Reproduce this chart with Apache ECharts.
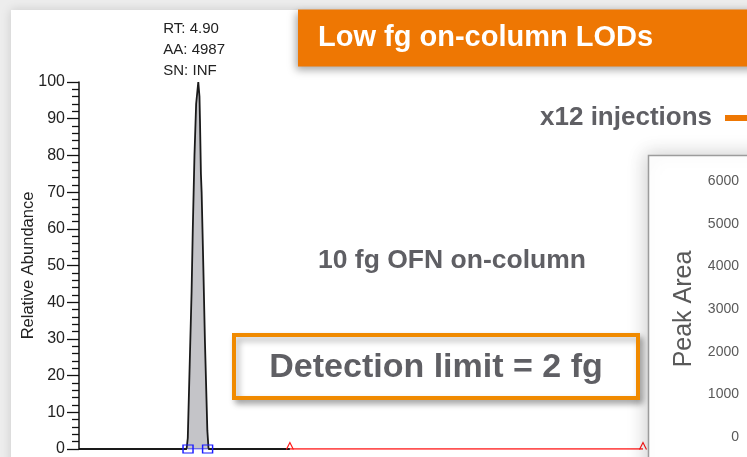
<!DOCTYPE html>
<html>
<head>
<meta charset="utf-8">
<script src="https://cdn.jsdelivr.net/npm/echarts@6/dist/echarts.min.js"></script>
<style>
  html, body { margin: 0; padding: 0; background: #ededed; }
  #chart { width: 747px; height: 457px; }
</style>
</head>
<body>
<div id="chart"></div>
<script>
// Chromatogram trace (retention time in min, relative abundance in %)
const traceTime = [4.400, 4.851, 4.856, 4.864, 4.872, 4.877, 4.884, 4.891, 4.900,
                   4.905, 4.907, 4.911, 4.914, 4.921, 4.928, 4.938, 4.943, 5.284];
const traceAbundance = [0, 0, 3, 23, 43, 60, 80, 94, 100,
                        96, 90, 75, 70, 50, 29, 5, 0, 0];

// Integration start / end of the peak
const integrationTime = [4.857, 4.939];
const integrationLevel = [0, 0];

// Detected baseline segment after the peak
const baselineTime = [5.284, 6.764];
const baselineLevel = [0, 0];

// Peak annotation
const peakRT = '4.90';
const peakAA = '4987';
const peakSN = 'INF';

// Axis ticks
const abundanceTicks = [0, 10, 20, 30, 40, 50, 60, 70, 80, 90, 100];
const areaTicks = [0, 1000, 2000, 3000, 4000, 5000, 6000];

// Peak areas of the repeat injections (series shown in the legend)
const injectionSeriesName = 'x12 injections';
const injectionAreas = [];

const pair = (xs, ys) => xs.map((x, i) => [x, ys[i]]);

const SANS = '"Liberation Sans", Arial, sans-serif';
const GREY_TEXT = '#5f5f64';
const ORANGE = '#ee7703';

const chart = echarts.init(document.getElementById('chart'), null, { renderer: 'canvas' });

const peakIndex = traceAbundance.indexOf(Math.max(...traceAbundance));

chart.setOption({
  animation: false,
  title: {
    text: 'Low fg on-column LODs',
    left: 298,
    top: 10,
    padding: [14, 140, 14, 20],
    backgroundColor: ORANGE,
    shadowBlur: 8,
    shadowColor: 'rgba(0,0,0,0.35)',
    shadowOffsetX: -2,
    shadowOffsetY: 3,
    z: 20,
    textStyle: { color: '#ffffff', fontFamily: SANS, fontWeight: 'bold', fontSize: 29, lineHeight: 28 }
  },
  legend: {
    data: [{ name: injectionSeriesName, icon: 'rect' }],
    right: 0,
    top: 105,
    padding: 0,
    align: 'right',
    itemWidth: 22,
    itemHeight: 6,
    z: 20,
    textStyle: { color: GREY_TEXT, fontFamily: SANS, fontWeight: 'bold', fontSize: 26, padding: [0, 8, 0, 0] }
  },
  grid: [
    { left: 79, right: 0, top: 82, bottom: 7 },
    { left: 748, right: -120, top: 181, bottom: 20 }
  ],
  xAxis: [
    { type: 'value', gridIndex: 0, min: 4.4, max: 7.2, show: false },
    { type: 'value', gridIndex: 1, min: 0, max: 13, show: false }
  ],
  yAxis: [
    {
      type: 'value', gridIndex: 0,
      min: abundanceTicks[0], max: abundanceTicks[abundanceTicks.length - 1],
      interval: abundanceTicks[1] - abundanceTicks[0],
      z: 5,
      name: 'Relative Abundance',
      nameLocation: 'middle',
      nameGap: 42,
      nameMoveOverlap: false,
      nameTextStyle: { color: '#222', fontFamily: SANS, fontSize: 16.5 },
      axisLine: { show: true, lineStyle: { color: '#111', width: 1.5 } },
      axisTick: { show: true, length: 12, lineStyle: { color: '#111', width: 1.3 } },
      minorTick: { show: true, splitNumber: 5, length: 7, lineStyle: { color: '#111', width: 1.3 } },
      axisLabel: { margin: 14, color: '#222', fontFamily: SANS, fontSize: 16 },
      splitLine: { show: false }
    },
    {
      type: 'value', gridIndex: 1,
      min: areaTicks[0], max: areaTicks[areaTicks.length - 1],
      interval: areaTicks[1] - areaTicks[0],
      z: 12,
      name: 'Peak Area',
      nameLocation: 'middle',
      nameGap: 51,
      nameMoveOverlap: false,
      nameTextStyle: { color: '#595959', fontFamily: SANS, fontSize: 25 },
      axisLine: { show: false },
      axisTick: { show: false },
      axisLabel: { margin: 9, color: '#595959', fontFamily: SANS, fontSize: 14, formatter: (v) => String(v) },
      splitLine: { show: false }
    }
  ],
  graphic: [
    {
      type: 'rect', z: -10, silent: true,
      shape: { x: 11, y: 10, width: 800, height: 500 },
      style: { fill: '#ffffff', shadowBlur: 10, shadowColor: 'rgba(0,0,0,0.15)' }
    },
    {
      type: 'rect', z: 8, silent: true,
      shape: { x: 648.5, y: 155.5, width: 160, height: 360 },
      style: { fill: '#ffffff', stroke: '#9c9c9c', lineWidth: 1.5,
               shadowBlur: 18, shadowColor: 'rgba(0,0,0,0.18)', shadowOffsetX: -3, shadowOffsetY: -2 }
    },
    {
      type: 'rect', z: 9, silent: true,
      shape: { x: 234, y: 335, width: 404, height: 63 },
      style: { fill: '#ffffff', stroke: '#f08a00', lineWidth: 4,
               shadowBlur: 6, shadowColor: 'rgba(0,0,0,0.3)', shadowOffsetX: 3, shadowOffsetY: 4 }
    },
    {
      type: 'text', z: 10, silent: true,
      style: { text: 'Detection limit = 2 fg', x: 436, y: 368, textAlign: 'center', textVerticalAlign: 'middle',
               font: 'bold 34px ' + SANS, fill: GREY_TEXT }
    },
    {
      type: 'text', z: 10, silent: true,
      style: { text: '10 fg OFN on-column', x: 452, y: 261, textAlign: 'center', textVerticalAlign: 'middle',
               font: 'bold 26.5px ' + SANS, fill: GREY_TEXT }
    }
  ],
  series: [
    {
      name: 'Chromatogram',
      type: 'line',
      xAxisIndex: 0, yAxisIndex: 0,
      data: pair(traceTime, traceAbundance),
      symbol: 'none',
      lineStyle: { color: '#1a1a1a', width: 1.8 },
      areaStyle: { color: '#c4c4c8', opacity: 1 },
      z: 3,
      markPoint: {
        symbol: 'circle',
        symbolSize: 0,
        data: [{ coord: [traceTime[peakIndex], traceAbundance[peakIndex]] }],
        label: {
          show: true,
          position: 'top',
          distance: 1,
          align: 'left',
          offset: [-35, 0],
          color: '#222',
          fontFamily: SANS,
          fontSize: 15,
          lineHeight: 21,
          formatter: () => 'RT: ' + peakRT + '\nAA: ' + peakAA + '\nSN: ' + peakSN
        }
      }
    },
    {
      name: 'Baseline',
      type: 'line',
      xAxisIndex: 0, yAxisIndex: 0,
      data: pair(baselineTime, baselineLevel),
      symbol: 'path://M0,10L5,0L10,10',
      symbolSize: [7, 7],
      symbolOffset: [0, -3],
      showAllSymbol: true,
      itemStyle: { color: 'rgba(0,0,0,0)', borderColor: '#ff1a1a', borderWidth: 1.2 },
      lineStyle: { color: '#ff1a1a', width: 1.4 },
      z: 4
    },
    {
      name: 'Integration',
      type: 'line',
      xAxisIndex: 0, yAxisIndex: 0,
      data: pair(integrationTime, integrationLevel),
      symbol: 'rect',
      symbolSize: [10, 8],
      showAllSymbol: true,
      itemStyle: { color: 'rgba(0,0,0,0)', borderColor: '#1a1aff', borderWidth: 1.3 },
      lineStyle: { color: '#1a1aff', width: 1.2 },
      z: 5
    },
    {
      name: injectionSeriesName,
      type: 'line',
      xAxisIndex: 1, yAxisIndex: 1,
      data: injectionAreas,
      color: ORANGE,
      lineStyle: { color: ORANGE, width: 3 }
    }
  ]
});
</script>
</body>
</html>
